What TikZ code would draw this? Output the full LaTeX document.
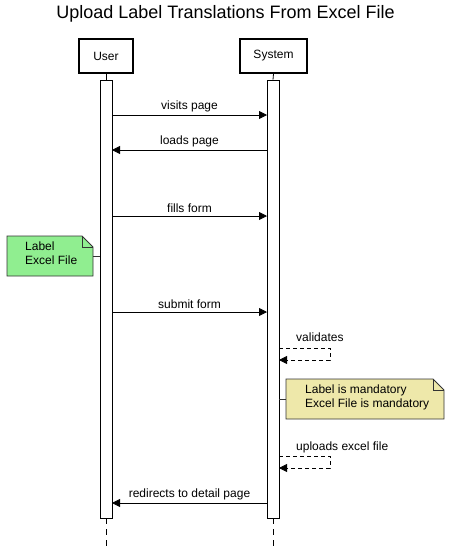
\documentclass[tikz,border=0pt]{standalone}
\usepackage{fontspec}
\setmainfont{Liberation Sans}
\usetikzlibrary{arrows.meta,calc}
\definecolor{notegreen}{HTML}{90EE90}
\definecolor{noteyellow}{HTML}{EEE8AA}
\definecolor{edge}{HTML}{333333}
\tikzset{
  actor/.style={draw=black,line width=2pt,fill=white,minimum width=#1,minimum height=34pt,inner sep=0pt,font=\fontsize{12}{14}\selectfont},
  actbar/.style={draw=black,line width=0.8pt,fill=white,minimum width=12pt,minimum height=438pt,inner sep=0pt},
  msg/.style={line width=0.8pt,-{Triangle[length=8pt,width=8pt]}},
  selfmsg/.style={line width=0.8pt,dash pattern=on 4pt off 3pt,-{Triangle[length=8pt,width=8pt]}},
  lbl/.style={font=\fontsize{12}{14}\selectfont,inner sep=1pt},
  notetext/.style={font=\fontsize{12}{14}\selectfont,align=left,inner sep=0pt},
  life/.style={line width=0.8pt},
  lifedash/.style={line width=0.8pt,dash pattern=on 6pt off 5pt}
}
\begin{document}
\begin{tikzpicture}[x=1pt,y=-1pt]
\useasboundingbox (0,0) rectangle (451,547);

% title
\node[font=\fontsize{18}{21}\selectfont] (title) at (225.5,14) {Upload Label Translations From Excel File};

% participants
\node[actor=54pt] (user) at (106,56) {User};
\node[actor=67pt] (sys) at (273.5,56) {System};

% activation bars
\node[actbar] (ubar) at (106,299) {};
\node[actbar] (sbar) at (273,299) {};

% lifelines
\draw[life] (user.south) -- (ubar.north);
\draw[life] (sys.south) -- (sbar.north);
\coordinate (uend) at (106,547);
\coordinate (send) at (273,547);
\draw[lifedash] (ubar.south) -- (uend);
\draw[lifedash] (sbar.south) -- (send);

% message endpoints on the bars
\foreach \n/\y in {a/115,b/150,c/216,d/312,e/503}{
  \coordinate (u\n) at (112,\y);
  \coordinate (s\n) at (267,\y);
}

\draw[msg] (ua) -- node[lbl,above=2pt] (m1) {visits page} (sa);
\draw[msg] (sb) -- node[lbl,above=2pt] (m2) {loads page} (ub);
\draw[msg] (uc) -- node[lbl,above=2pt] (m3) {fills form} (sc);
\draw[msg] (ud) -- node[lbl,above=2pt] (m4) {submit form} (sd);
\draw[msg] (se) -- node[lbl,above=2pt] (m5) {redirects to detail page} (ue);

% self messages
\coordinate (v1) at (279,348);
\coordinate (v2) at (279,360);
\draw[selfmsg] (v1) -- ++(51,0) |- (v2);
\node[lbl,anchor=base west] (vl) at (295,341) {validates};

\coordinate (w1) at (279,456);
\coordinate (w2) at (279,468);
\draw[selfmsg] (w1) -- ++(51,0) |- (w2);
\node[lbl,anchor=base west] (wl) at (295,450) {uploads excel file};

% note on user
\draw[edge,line width=0.8pt,fill=notegreen]
  (7,236) -- (82,236) -- (93,247) -- (93,276) -- (7,276) -- cycle;
\draw[edge,line width=0.8pt] (82,236) -- (82,247) -- (93,247);
\node[notetext,anchor=north west] (gnote) at (25,242) {Label\\Excel File};
\coordinate (gn) at (93,256);
\coordinate (gb) at (100,256);
\draw[edge,line width=0.8pt] (gn) -- (gb);

% note on system
\draw[edge,line width=0.8pt,fill=noteyellow]
  (286,379) -- (433,379) -- (444,390) -- (444,419) -- (286,419) -- cycle;
\draw[edge,line width=0.8pt] (433,379) -- (433,390) -- (444,390);
\node[notetext,anchor=north west] (ynote) at (305,385) {Label is mandatory\\Excel File is mandatory};
\coordinate (yn) at (286,399);
\coordinate (yb) at (279,399);
\draw[edge,line width=0.8pt] (yb) -- (yn);
\end{tikzpicture}
\end{document}
